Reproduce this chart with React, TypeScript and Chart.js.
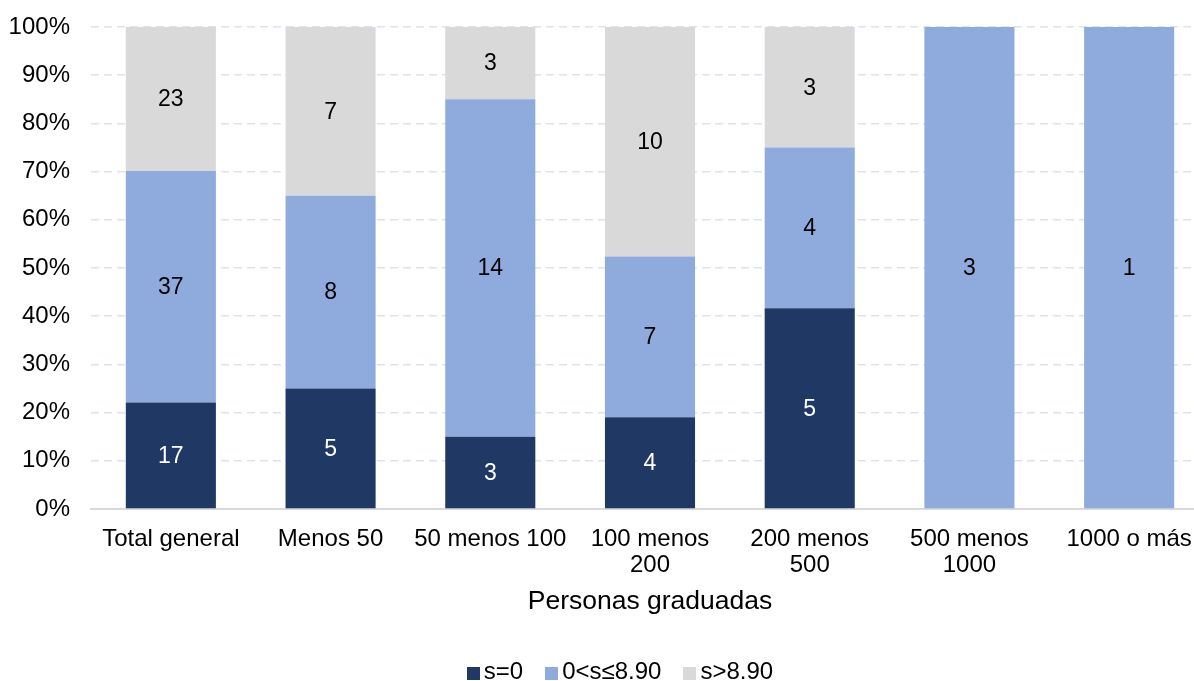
import React, { useEffect, useRef } from "react";
import { Chart, registerables } from "chart.js";

Chart.register(...registerables);

const categories: (string | string[])[] = [
  "Total general",
  "Menos 50",
  "50 menos 100",
  ["100 menos", "200"],
  ["200 menos", "500"],
  ["500 menos", "1000"],
  "1000 o más",
];
const seriesNames = ["s=0", "0<s≤8.90", "s>8.90"];
const countsZero = [17, 5, 3, 4, 5, 0, 0];
const countsMid = [37, 8, 14, 7, 4, 3, 1];
const countsHigh = [23, 7, 3, 10, 3, 0, 0];
const seriesColors = ["#203864", "#8FAADC", "#D9D9D9"];
const labelColors = ["#FFFFFF", "#000000", "#000000"];
const yTicks = [0, 10, 20, 30, 40, 50, 60, 70, 80, 90, 100];

const FONT = "'Liberation Sans', Arial, sans-serif";

export default function App() {
  const ref = useRef<HTMLCanvasElement | null>(null);

  useEffect(() => {
    const counts = [countsZero, countsMid, countsHigh];
    const totals = categories.map((_, i) => counts.reduce((s, c) => s + c[i], 0));
    const datasets = counts.map((c, k) => ({
      label: seriesNames[k],
      data: c.map((v, i) => (v / totals[i]) * 100),
      backgroundColor: seriesColors[k],
      borderWidth: 0,
      barPercentage: 1,
      categoryPercentage: 0.564,
    }));

    const labelPlugin = {
      id: "segLabels",
      afterDatasetsDraw(chart: any) {
        const ctx = chart.ctx;
        ctx.save();
        ctx.font = `23px ${FONT}`;
        ctx.textAlign = "center";
        ctx.textBaseline = "middle";
        chart.data.datasets.forEach((ds: any, k: number) => {
          const meta = chart.getDatasetMeta(k);
          meta.data.forEach((el: any, i: number) => {
            const v = counts[k][i];
            if (!v) return;
            ctx.fillStyle = labelColors[k];
            ctx.fillText(String(v), el.x, (el.y + el.base) / 2 + 1);
          });
        });
        ctx.restore();
      },
    };

    const chart = new Chart(ref.current as HTMLCanvasElement, {
      type: "bar",
      data: { labels: categories as any, datasets },
      options: {
        animation: false,
        responsive: false,
        maintainAspectRatio: false,
        layout: { padding: { top: 27, right: 31, bottom: 61, left: 0 } },
        plugins: { legend: { display: false }, tooltip: { enabled: false } },
        scales: {
          x: {
            stacked: true,
            grid: { display: false, drawTicks: false },
            border: { display: true, color: "#D9D9D9", width: 2 },
            ticks: {
              color: "#000",
              font: { family: FONT, size: 24, lineHeight: 1.1 },
              padding: 17,
              maxRotation: 0,
              autoSkip: false,
            },
            title: {
              display: true,
              text: "Personas graduadas",
              color: "#000",
              font: { family: FONT, size: 26.5 },
              padding: { top: 0, bottom: 2 },
            },
            afterFit: (s: any) => {
              s.height = 111;
              s.paddingLeft = 0;
              s.paddingRight = 0;
            },
          },
          y: {
            stacked: true,
            min: 0,
            max: 100,
            afterBuildTicks: (s: any) => {
              s.ticks = yTicks.map((v) => ({ value: v }));
            },
            grid: { color: "#DAE3F3", lineWidth: 1.5, drawTicks: false },
            border: { display: false, dash: [8, 5] },
            ticks: {
              color: "#000",
              font: { family: FONT, size: 24 },
              padding: 21,
              callback: (v: any) => v + "%",
            },
            afterFit: (s: any) => {
              s.width = 91;
              s.paddingTop = 0;
              s.paddingBottom = 0;
            },
          },
        },
      },
      plugins: [labelPlugin],
    });
    return () => chart.destroy();
  }, []);

  return (
    <>
      <div style={{ position: "fixed", left: 0, top: 0, width: 1240, height: 681 }}>
        <canvas ref={ref} width={1240} height={681} style={{ width: 1240, height: 681 }} />
      </div>
      <div
        style={{
          position: "fixed",
          left: 0,
          top: 659,
          width: 1240,
          height: 24,
          display: "flex",
          justifyContent: "center",
          alignItems: "center",
          gap: 22,
          fontFamily: FONT,
          fontSize: 24,
          lineHeight: "24px",
          color: "#000",
        }}
      >
        {seriesNames.map((n, k) => (
          <div key={n} style={{ display: "flex", alignItems: "center" }}>
            <span
              style={{
                display: "inline-block",
                width: 13,
                height: 13,
                background: seriesColors[k],
                marginRight: 4,
                marginTop: 4,
              }}
            />
            <span>{n}</span>
          </div>
        ))}
      </div>
    </>
  );
}
